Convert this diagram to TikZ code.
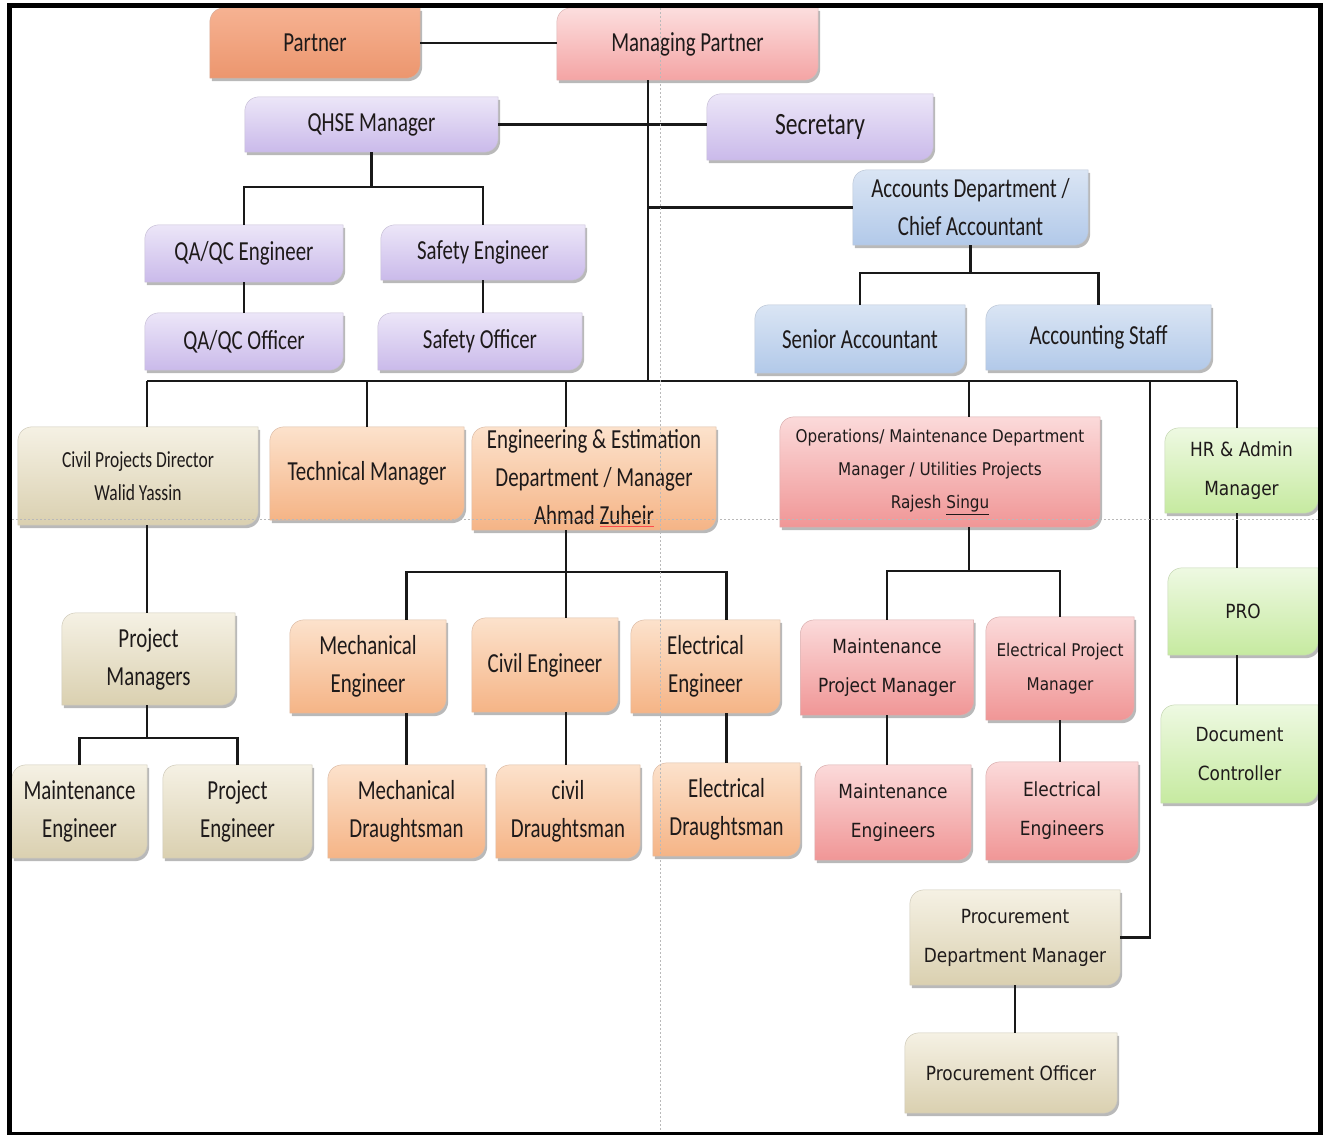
\documentclass[tikz,border=0pt]{standalone}
\usepackage{fontspec}
\setmainfont{Carlito}[FakeStretch=0.76]
\newfontfamily\tahomalike{DejaVu Sans}[FakeStretch=0.87]
\pgfdeclarelayer{background}
\pgfsetlayers{background,main}

\definecolor{txtgray}{RGB}{30,26,26}
\definecolor{partA}{RGB}{246,178,146}
\definecolor{partB}{RGB}{236,150,110}
\definecolor{mpA}{RGB}{252,222,222}
\definecolor{mpB}{RGB}{244,164,164}
\definecolor{lavA}{RGB}{236,230,248}
\definecolor{lavB}{RGB}{202,186,234}
\definecolor{bluA}{RGB}{218,229,244}
\definecolor{bluB}{RGB}{178,201,233}
\definecolor{begA}{RGB}{245,241,228}
\definecolor{begB}{RGB}{218,208,176}
\definecolor{pchA}{RGB}{252,226,204}
\definecolor{pchB}{RGB}{245,180,134}
\definecolor{pnkA}{RGB}{251,218,218}
\definecolor{pnkB}{RGB}{240,150,150}
\definecolor{grnA}{RGB}{238,249,226}
\definecolor{grnB}{RGB}{198,234,160}

% box with rounded top-left and bottom-right corners, shifted by (#2,#3)
\newcommand{\diagbox}[3]{([shift={(#2,#3+15)}]#1.north west) .. controls ([shift={(#2,#3+6)}]#1.north west) and ([shift={(#2+6,#3)}]#1.north west) .. ([shift={(#2+15,#3)}]#1.north west) -- ([shift={(#2,#3)}]#1.north east) -- ([shift={(#2,#3-15)}]#1.south east) .. controls ([shift={(#2,#3-6)}]#1.south east) and ([shift={(#2-6,#3)}]#1.south east) .. ([shift={(#2-15,#3)}]#1.south east) -- ([shift={(#2,#3)}]#1.south west) -- cycle}

\begin{document}
\begin{tikzpicture}[x=1pt,y=1pt,yscale=-1,xscale=1,
  boxtext/.style={text=txtgray, align=center, inner sep=0pt, font=\fontsize{27.5}{38}\selectfont},
  tahoma/.style={text=txtgray, align=center, inner sep=0pt, font=\tahomalike\fontsize{19.5}{39}\selectfont},
  link/.style={line width=2.4pt, black!90},
  guide/.style={gray!55, dash pattern=on 2pt off 2pt, line width=0.8pt}]
\useasboundingbox (0,0) rectangle (1323,1135);

%Top level
\node[boxtext, minimum width=210, minimum height=70] (partner) at (315,43) {Partner};
\node[boxtext, minimum width=261, minimum height=72] (mpartner) at (687.5,44) {Managing Partner};
\node[boxtext, minimum width=253, minimum height=55] (qhse) at (371.5,124.5) {QHSE Manager};
\node[boxtext, font=\fontsize{31}{38}\selectfont, minimum width=226, minimum height=66] (secretary) at (820,127) {Secretary};
\node[boxtext, minimum width=235, minimum height=75] (accounts) at (970.5,207.5) {Accounts Department /\\Chief Accountant};

%QHSE staff
\node[boxtext, minimum width=198, minimum height=57] (qaeng) at (244,253.5) {QA/QC Engineer};
\node[boxtext, minimum width=204, minimum height=55] (safeeng) at (483,252.5) {Safety Engineer};
\node[boxtext, minimum width=198, minimum height=57] (qaoff) at (244,341.5) {QA/QC Officer};
\node[boxtext, minimum width=204, minimum height=57] (safeoff) at (480,341.5) {Safety Officer};

%Accounts staff
\node[boxtext, minimum width=210, minimum height=68] (senacc) at (860,339) {Senior Accountant};
\node[boxtext, minimum width=225, minimum height=65] (accstaff) at (1098.5,337.5) {Accounting Staff};

%Departments
\node[boxtext, font=\fontsize{23}{33}\selectfont, minimum width=240, minimum height=98] (civdir) at (138,476) {Civil Projects Director\\Walid Yassin};
\node[boxtext, minimum width=194, minimum height=93] (techmgr) at (367,473.5) {Technical Manager};
\node[boxtext, minimum width=244, minimum height=103] (engest) at (594,478.5) {Engineering \& Estimation\\Department / Manager\\Ahmad {\color{red!70}\underline{\color{txtgray}Zuheir}}};
\node[tahoma, font=\tahomalike\fontsize{17.5}{33}\selectfont, minimum width=320, minimum height=110] (ops) at (940,472) {Operations/ Maintenance Department\\Manager / Utilities Projects\\Rajesh \underline{Singu}};
\node[tahoma, minimum width=153, minimum height=85] (hr) at (1241.5,470.5) {HR \& Admin\\Manager};

%Civil projects
\node[boxtext, minimum width=173, minimum height=92] (projmgr) at (148.5,659) {Project\\Managers};
\node[boxtext, minimum width=135, minimum height=93] (mainteng) at (79.5,811.5) {Maintenance\\Engineer};
\node[boxtext, minimum width=149, minimum height=93] (projeng) at (237.5,811.5) {Project\\Engineer};

%Engineering
\node[boxtext, minimum width=156, minimum height=93] (mecheng) at (368,666.5) {Mechanical\\Engineer};
\node[boxtext, minimum width=146, minimum height=94] (civeng) at (545,665) {Civil Engineer};
\node[boxtext, minimum width=149, minimum height=93] (eleceng) at (705.5,666.5) {Electrical\\Engineer};
\node[boxtext, minimum width=157, minimum height=93] (mechdr) at (406.5,811.5) {Mechanical\\Draughtsman};
\node[boxtext, minimum width=144, minimum height=93] (civdr) at (568,811.5) {civil\\Draughtsman};
\node[boxtext, minimum width=147, minimum height=93] (elecdr) at (726.5,809.5) {Electrical\\Draughtsman};

%Operations
\node[tahoma, minimum width=173, minimum height=95] (maintpm) at (887,667.5) {Maintenance\\Project Manager};
\node[tahoma, font=\tahomalike\fontsize{17.5}{34}\selectfont, minimum width=148, minimum height=103] (elecpm) at (1060,668.5) {Electrical Project\\Manager};
\node[tahoma, minimum width=156, minimum height=95] (mainteng2) at (893,812.5) {Maintenance\\Engineers};
\node[tahoma, minimum width=152, minimum height=98] (eleceng2) at (1062,811) {Electrical\\Engineers};

%HR
\node[tahoma, minimum width=150, minimum height=87] (pro) at (1243,611.5) {PRO};
\node[tahoma, minimum width=157, minimum height=98] (doc) at (1239.5,754) {Document\\Controller};

%Procurement
\node[tahoma, minimum width=210, minimum height=95] (procmgr) at (1015,937.5) {Procurement\\Department Manager};
\node[tahoma, minimum width=212, minimum height=80] (procoff) at (1011,1073) {Procurement Officer};

%Box fills
\begin{pgfonlayer}{background}
\foreach \ca/\cb/\names in {partA/partB/{partner}, mpA/mpB/{mpartner},
    lavA/lavB/{qhse,secretary,qaeng,safeeng,qaoff,safeoff},
    bluA/bluB/{accounts,senacc,accstaff},
    begA/begB/{civdir,projmgr,mainteng,projeng,procmgr,procoff},
    pchA/pchB/{techmgr,engest,mecheng,civeng,eleceng,mechdr,civdr,elecdr},
    pnkA/pnkB/{ops,maintpm,elecpm,mainteng2,eleceng2},
    grnA/grnB/{hr,pro,doc}} {
  \foreach \n in \names {
    \fill[black!50, opacity=0.55] \diagbox{\n}{2}{3};
    \shade[top color=\ca, bottom color=\cb, draw=\cb!80!black!60, line width=0.5pt] \diagbox{\n}{0}{0};
  }
}
\end{pgfonlayer}

%Join points
\coordinate (trunk) at (648,381);
\coordinate (civcol) at (147,381);
\coordinate (engcol) at (566,381);
\coordinate (opscol) at (969,381);
\coordinate (proccol) at (1150,381);
\coordinate (hrcol) at (1237,381);
\coordinate (qhsejoin) at (371.5,187);
\coordinate (accjoin) at (970.5,273);
\coordinate (pmjoin) at (147,738);
\coordinate (engjoin) at (566,572);
\coordinate (opsjoin) at (969,571);

%Straight Lines
\draw[link] (partner.east) -- (partner.east -| mpartner.west);
\draw[link] (mpartner.south -| trunk) -- (trunk);
\draw[link] (qhse.east) -- (qhse.east -| secretary.west);
\draw[link] (accounts.west) -- (accounts.west -| trunk);
\draw[link] (qhse.south) -- (qhsejoin);
\draw[link] (qaeng.north) |- (qhsejoin) -| (safeeng.north);
\draw[link] (qaeng.south) -- (qaoff.north);
\draw[link] (safeeng.south) -- (safeeng.south |- safeoff.north);
\draw[link] (accounts.south) -- (accjoin);
\draw[link] (senacc.north) |- (accjoin) -| (accstaff.north);
%Main bus
\draw[link] (civcol) -- (hrcol);
\draw[link] (civcol) -- (civcol |- civdir.north);
\draw[link] (techmgr.north |- trunk) -- (techmgr.north);
\draw[link] (engcol) -- (engcol |- engest.north);
\draw[link] (opscol) -- (opscol |- ops.north);
\draw[link] (proccol) |- (procmgr.east);
\draw[link] (hrcol) -- (hrcol |- hr.north);
%Civil projects
\draw[link] (civcol |- civdir.south) -- (civcol |- projmgr.north);
\draw[link] (civcol |- projmgr.south) -- (pmjoin);
\draw[link] (mainteng.north) |- (pmjoin) -| (projeng.north);
%Engineering
\draw[link] (engcol |- engest.south) -- (engcol |- civeng.north);
\draw[link] (mecheng.north -| mechdr.north) |- (engjoin) -| (eleceng.north -| elecdr.north);
\draw[link] (mecheng.south -| mechdr.north) -- (mechdr.north);
\draw[link] (engcol |- civeng.south) -- (engcol |- civdr.north);
\draw[link] (eleceng.south -| elecdr.north) -- (elecdr.north);
%Operations
\draw[link] (opscol |- ops.south) -- (opsjoin);
\draw[link] (maintpm.north) |- (opsjoin) -| (elecpm.north);
\draw[link] (maintpm.south) -- (maintpm.south |- mainteng2.north);
\draw[link] (elecpm.south) -- (elecpm.south |- eleceng2.north);
%HR
\draw[link] (hrcol |- hr.south) -- (hrcol |- pro.north);
\draw[link] (hrcol |- pro.south) -- (hrcol |- doc.north);
%Procurement
\draw[link] (procmgr.south) -- (procmgr.south |- procoff.north);

%Guide lines
\draw[guide] (660,8) -- (660,1133);
\draw[guide] (12,519) -- (1318,519);

%Frame
\draw[line width=5pt] (9,5.5) rectangle (1320.5,1134);
\end{tikzpicture}
\end{document}
